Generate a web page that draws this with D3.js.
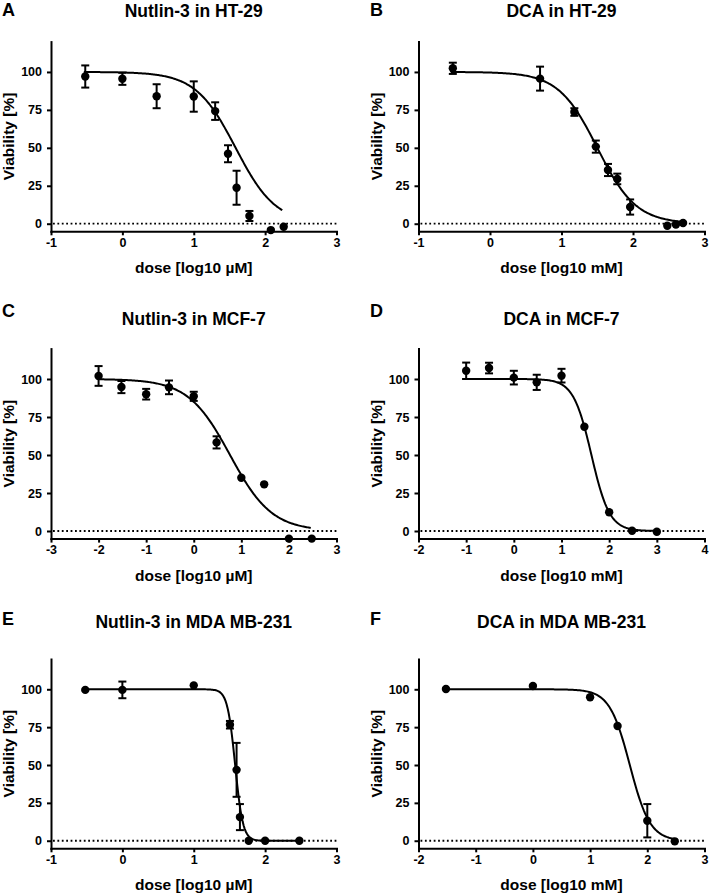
<!DOCTYPE html>
<html>
<head>
<meta charset="utf-8">
<script src="https://cdn.jsdelivr.net/npm/d3@7"></script>
<style>
body { margin: 0; background: #fff; }
svg { font-family: "Liberation Sans", Arial, Helvetica, sans-serif; font-weight: bold; }
</style>
</head>
<body>
<svg width="709" height="896"></svg>
<script>
var panelLetters = ["A", "B", "C", "D", "E", "F"];
var titles = ["Nutlin-3 in HT-29", "DCA in HT-29", "Nutlin-3 in MCF-7",
              "DCA in MCF-7", "Nutlin-3 in MDA MB-231", "DCA in MDA MB-231"];
var xLabels = ["dose [log10 µM]", "dose [log10 mM]", "dose [log10 µM]",
               "dose [log10 mM]", "dose [log10 µM]", "dose [log10 mM]"];
var xDomains = [[-1, 3], [-1, 3], [-3, 3], [-2, 4], [-1, 3], [-2, 3]];
var yDomain = [-5, 120];
var yTicks = [0, 25, 50, 75, 100];

// measured points (log dose, mean viability, error)
var doseA = [-0.52, 0, 0.48, 1.0, 1.3, 1.48, 1.6, 1.78, 2.08, 2.26];
var viabA = [97, 95.5, 84, 83.8, 74.2, 46.1, 23.7, 5.1, -4.2, -2];
var errA  = [7.3, 4, 7.9, 10, 5.8, 5.6, 11.2, 3.3, 0, 0];

var doseB = [-0.52, 0.7, 1.18, 1.48, 1.65, 1.78, 1.96, 2.48, 2.6, 2.7];
var viabB = [102.4, 95.6, 73.6, 50.8, 35.4, 29.5, 11, -1.3, -0.5, 0.5];
var errB  = [3.7, 7.9, 2.5, 4, 4, 3.5, 5, 0, 0, 0];

var doseC = [-2, -1.52, -1, -0.52, 0, 0.48, 1.0, 1.48, 2.0, 2.48];
var viabC = [102, 94.7, 90, 94.5, 88.6, 58.3, 35, 30.7, -5, -5];
var errC  = [6.5, 4, 3.5, 4.5, 3, 4, 0, 0, 0, 0];

var doseD = [-1, -0.52, 0, 0.48, 1.0, 1.48, 2.0, 2.48, 3.0];
var viabD = [105.4, 107.2, 100.9, 97.8, 102.2, 68.6, 12.3, 0.2, -0.5];
var errD  = [5.4, 3.5, 4.5, 5, 4.5, 0, 0, 0, 0];

var doseE = [-0.52, 0, 1.0, 1.507, 1.6, 1.647, 1.77, 2.0, 2.48];
var viabE = [99.6, 99.6, 102.6, 76.6, 46.8, 15.6, 0, 0, 0];
var errE  = [0, 5.5, 0, 2.5, 17.8, 8.6, 0, 0, 0];

var doseF = [-1.52, 0, 1.0, 1.48, 2.0, 2.48];
var viabF = [100.2, 102.2, 94.7, 75.8, 13.2, -0.4];
var errF  = [0, 0, 0, 0, 11, 0];

// fitted dose-response curves (top 100, bottom 0)
var fitLogIC50 = [1.587, 1.501, 0.762, 1.628, 1.58, 1.694];
var fitHill    = [1.547, 1.597, 0.988, 2.29, 8, 2.458];
var fitFrom    = [-0.54, -0.55, -1.98, -1.08, -0.52, -1.52];
var fitTo      = [2.24, 2.72, 2.46, 3.0, 2.48, 2.48];

var doses = [doseA, doseB, doseC, doseD, doseE, doseF];
var viabs = [viabA, viabB, viabC, viabD, viabE, viabF];
var errs  = [errA, errB, errC, errD, errE, errF];

var cols = [{x0: 51, x1: 336.5, letterX: 2}, {x0: 418.5, x1: 704.5, letterX: 370}];
var rows = [
    {top: 41.6, bottom: 231.3, titleY: 17, letterY: 16},
    {top: 348.6, bottom: 538.6, titleY: 324.5, letterY: 316.5},
    {top: 659, bottom: 848.3, titleY: 628, letterY: 624.5}
];

var svg = d3.select("svg");

function hillCurve(i, x) {
    return 100 / (1 + Math.pow(10, (fitLogIC50[i] - x) * -fitHill[i]));
}

panelLetters.forEach(function (letter, i) {
    var c = cols[i % 2];
    var r = rows[Math.floor(i / 2)];
    var x = d3.scaleLinear().domain(xDomains[i]).range([c.x0, c.x1]);
    var y = d3.scaleLinear().domain(yDomain).range([r.bottom, r.top]);
    var g = svg.append("g");

    g.append("text")
        .attr("x", c.letterX)
        .attr("y", r.letterY)
        .style("font-size", "18px")
        .text(letter);

    g.append("text")
        .attr("x", (c.x0 + c.x1) / 2)
        .attr("y", r.titleY)
        .attr("text-anchor", "middle")
        .style("font-size", "17.5px")
        .text(titles[i]);

    // dotted zero line
    g.append("line")
        .attr("x1", x(xDomains[i][0]) + 2)
        .attr("x2", x(xDomains[i][1]))
        .attr("y1", y(0))
        .attr("y2", y(0))
        .style("stroke", "#000")
        .style("stroke-width", 1.8)
        .style("stroke-dasharray", "1.8 2.6");

    var xTicks = d3.range(xDomains[i][0], xDomains[i][1] + 1);
    var xAxis = g.append("g")
        .attr("transform", "translate(0," + r.bottom + ")")
        .call(d3.axisBottom(x).tickValues(xTicks).tickSize(4).tickPadding(3)
            .tickSizeOuter(0).tickFormat(function (d) { return String(d); }));
    var yAxis = g.append("g")
        .attr("transform", "translate(" + c.x0 + ",0)")
        .call(d3.axisLeft(y).tickValues(yTicks).tickSize(4).tickPadding(5)
            .tickSizeOuter(0).tickFormat(function (d) { return String(d); }));
    [xAxis, yAxis].forEach(function (a) {
        a.selectAll("path, line").style("stroke", "#000").style("stroke-width", 2);
        a.select(".domain").style("stroke-linecap", "square");
        a.selectAll("text")
            .style("font-family", "'Liberation Sans', Arial, sans-serif")
            .style("font-weight", "bold")
            .style("font-size", "12.5px")
            .style("fill", "#000");
    });

    g.append("text")
        .attr("x", (c.x0 + c.x1) / 2)
        .attr("y", r.bottom + 42)
        .attr("text-anchor", "middle")
        .style("font-size", "15.5px")
        .text(xLabels[i]);

    g.append("text")
        .attr("transform", "translate(" + (c.x0 - 37) + "," + ((r.top + r.bottom) / 2) + ")rotate(-90)")
        .attr("text-anchor", "middle")
        .style("font-size", "15.5px")
        .text("Viability [%]");

    // fitted curve
    var curveX = d3.range(0, 201).map(function (k) {
        return fitFrom[i] + (fitTo[i] - fitFrom[i]) * k / 200;
    });
    g.append("path")
        .datum(curveX)
        .attr("d", d3.line()
            .x(function (d) { return x(d); })
            .y(function (d) { return y(hillCurve(i, d)); }))
        .style("fill", "none")
        .style("stroke", "#000")
        .style("stroke-width", 2);

    var pts = doses[i].map(function (d, k) {
        return {dose: d, v: viabs[i][k], e: errs[i][k]};
    });
    var eb = g.selectAll(".err")
        .data(pts.filter(function (p) { return p.e > 0; }))
        .enter()
        .append("g")
        .style("stroke", "#000")
        .style("stroke-width", 2);
    eb.append("line")
        .attr("x1", function (p) { return x(p.dose); })
        .attr("x2", function (p) { return x(p.dose); })
        .attr("y1", function (p) { return y(p.v - p.e); })
        .attr("y2", function (p) { return y(p.v + p.e); });
    [1, -1].forEach(function (s) {
        eb.append("line")
            .attr("x1", function (p) { return x(p.dose) - 4; })
            .attr("x2", function (p) { return x(p.dose) + 4; })
            .attr("y1", function (p) { return y(p.v + s * p.e); })
            .attr("y2", function (p) { return y(p.v + s * p.e); });
    });

    g.selectAll(".pt")
        .data(pts)
        .enter()
        .append("circle")
        .attr("cx", function (p) { return x(p.dose); })
        .attr("cy", function (p) { return y(p.v); })
        .attr("r", 4.2)
        .style("fill", "#000");
});
</script>
</body>
</html>
